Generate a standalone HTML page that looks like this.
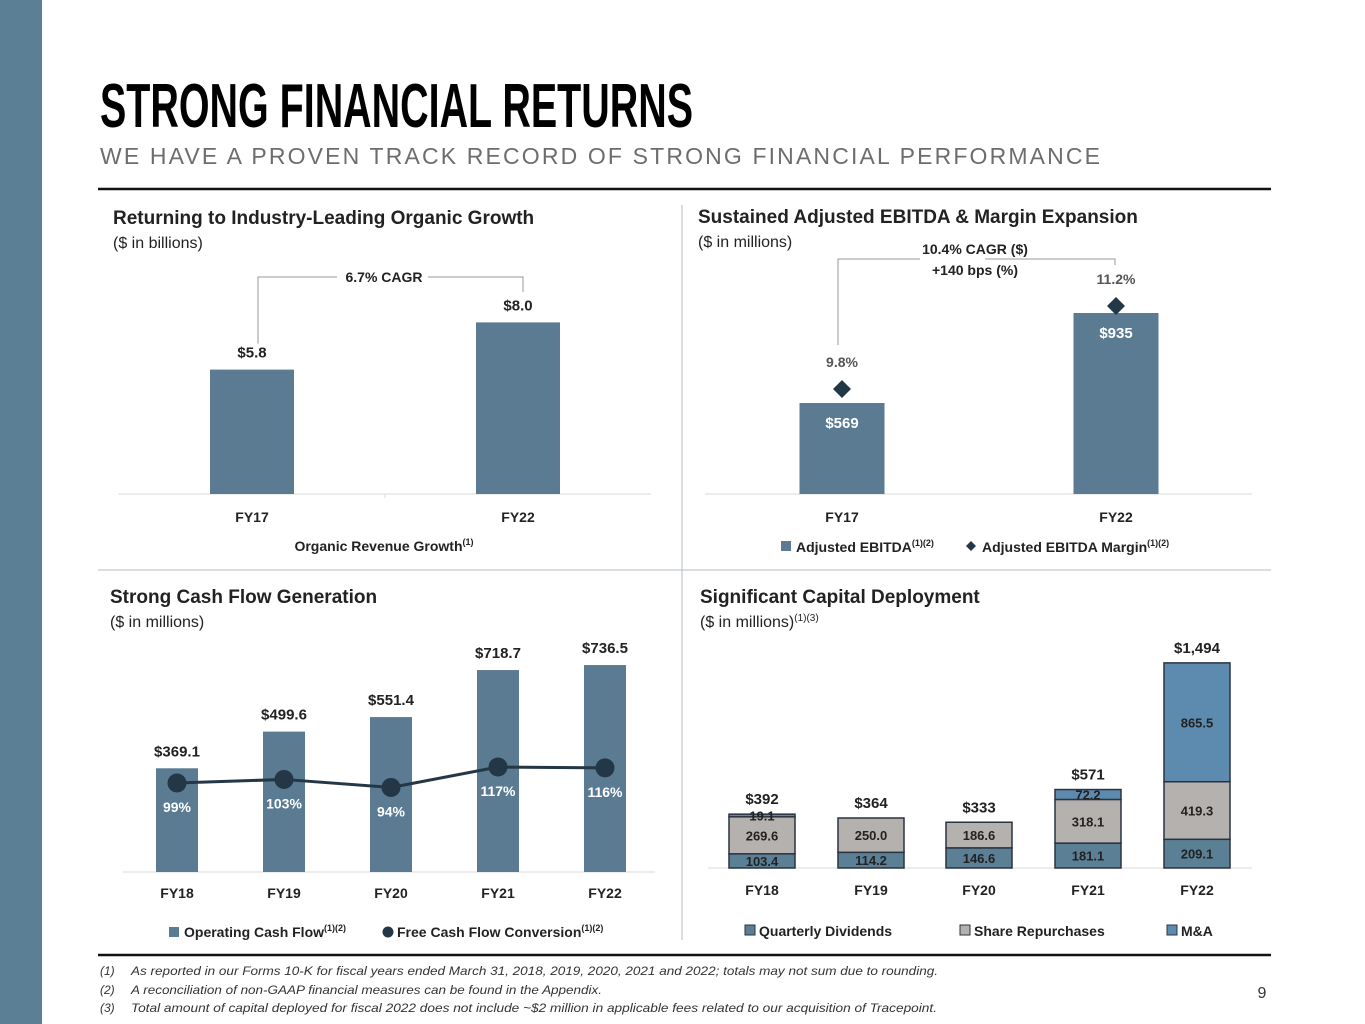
<!DOCTYPE html>
<html><head><meta charset="utf-8"><style>
html,body{margin:0;padding:0;background:#fff;}
svg{display:block;font-family:"Liberation Sans",sans-serif;}
.b{font-weight:bold;}
</style></head><body>
<svg id="s" width="1365" height="1024" viewBox="0 0 1365 1024" xmlns="http://www.w3.org/2000/svg">
<rect x="0" y="0" width="42" height="1024" fill="#5b7f95"/>
<text x="100" y="127" font-size="62" font-weight="bold" textLength="593" lengthAdjust="spacingAndGlyphs" fill="#000">STRONG FINANCIAL RETURNS</text>
<text x="100" y="164" font-size="23" textLength="1000" lengthAdjust="spacing" fill="#6d6d6d">WE HAVE A PROVEN TRACK RECORD OF STRONG FINANCIAL PERFORMANCE</text>
<line x1="98" y1="189" x2="1271" y2="189" stroke="#111" stroke-width="2.5"/>
<line x1="98" y1="570" x2="1271" y2="570" stroke="#b0bcc6" stroke-width="1"/>
<line x1="682" y1="205" x2="682" y2="940" stroke="#b0bcc6" stroke-width="1"/>
<line x1="98" y1="955" x2="1271" y2="955" stroke="#111" stroke-width="2.5"/>

<text class="b" x="113" y="224" font-size="19" fill="#222">Returning to Industry-Leading Organic Growth</text>
<text x="113" y="248" font-size="16" fill="#222">($ in billions)</text>
<text class="b" x="698" y="223" font-size="19" fill="#222">Sustained Adjusted EBITDA &amp; Margin Expansion</text>
<text x="698" y="247" font-size="16" fill="#222">($ in millions)</text>
<text class="b" x="110" y="603" font-size="19" fill="#222">Strong Cash Flow Generation</text>
<text x="110" y="627" font-size="16" fill="#222">($ in millions)</text>
<text class="b" x="700" y="603" font-size="19" fill="#222">Significant Capital Deployment</text>
<text x="700" y="627" font-size="16" fill="#222">($ in millions)<tspan font-size="10" dy="-6">(1)(3)</tspan></text>

<g id="c1"></g><g id="c2"></g><g id="c3"></g><g id="c4"></g>

<g font-style="italic" font-size="12" fill="#333">
<text x="100" y="975">(1)</text><text x="131" y="975" textLength="807" lengthAdjust="spacingAndGlyphs">As reported in our Forms 10-K for fiscal years ended March 31, 2018, 2019, 2020, 2021 and 2022; totals may not sum due to rounding.</text>
<text x="100" y="994">(2)</text><text x="131" y="994" textLength="471" lengthAdjust="spacingAndGlyphs">A reconciliation of non-GAAP financial measures can be found in the Appendix.</text>
<text x="100" y="1012">(3)</text><text x="131" y="1012" textLength="806" lengthAdjust="spacingAndGlyphs">Total amount of capital deployed for fiscal 2022 does not include ~$2 million in applicable fees related to our acquisition of Tracepoint.</text>
</g>
<text x="1262" y="998" font-size="16" text-anchor="middle" fill="#333">9</text>
</svg>
<script>
// Chart 1 data
const orgCats = ["FY17","FY22"];
const orgVals = [5.8, 8.0];
const orgLabels = ["$5.8","$8.0"];
// Chart 2 data
const ebCats = ["FY17","FY22"];
const ebVals = [569, 935];
const ebLabels = ["$569","$935"];
const ebMargin = [9.8, 11.2];
const ebMarginLabels = ["9.8%","11.2%"];
// Chart 3 data
const cfCats = ["FY18","FY19","FY20","FY21","FY22"];
const cfVals = [369.1, 499.6, 551.4, 718.7, 736.5];
const cfConv = [99, 103, 94, 117, 116];
// Chart 4 data
const capCats = ["FY18","FY19","FY20","FY21","FY22"];
const capDiv = [103.4, 114.2, 146.6, 181.1, 209.1];
const capRep = [269.6, 250.0, 186.6, 318.1, 419.3];
const capMA = [19.1, 0, 0, 72.2, 865.5];
const capTotals = ["$392","$364","$333","$571","$1,494"];

const NS="http://www.w3.org/2000/svg";
function mk(parent, tag, attrs, txt){const e=document.createElementNS(NS,tag);for(const k in attrs)e.setAttribute(k,attrs[k]);if(txt!==undefined)e.textContent=txt;parent.appendChild(e);return e;}
const BAR="#5b7b93", DARK="#243746", TXT="#222";

// ---- Chart 1
(function(){
const g=document.getElementById('c1');
const base=494, k=21.45, cx=[252,518], w=84;
const y=v=>base-v*k;
mk(g,'line',{x1:118,y1:base,x2:651,y2:base,stroke:'#d9d9d9'});
mk(g,'line',{x1:385,y1:base,x2:385,y2:base+4,stroke:'#d9d9d9'});
orgVals.forEach((v,i)=>{
 const r=mk(g,'rect',{x:cx[i]-w/2,y:y(v),width:w,height:base-y(v),fill:BAR});
 
 
 const t=mk(g,'text',{x:cx[i],y:y(v)-12,'text-anchor':'middle','font-size':15,'font-weight':'bold',fill:TXT},orgLabels[i]);
 
 
 const c=mk(g,'text',{x:cx[i],y:522,'text-anchor':'middle','font-size':14,'font-weight':'bold',fill:TXT},orgCats[i]);
 
 
});
const br=mk(g,'path',{d:`M${cx[0]+6} ${y(orgVals[0])-26} V277 H337 M428 277 H523 V292`,fill:'none',stroke:'#999','stroke-width':1});


mk(g,'text',{x:384,y:282,'text-anchor':'middle','font-size':14,'font-weight':'bold',fill:TXT},'6.7% CAGR');
const lg=mk(g,'text',{x:384,y:551,'text-anchor':'middle','font-size':14,'font-weight':'bold',fill:TXT});


lg.innerHTML='Organic Revenue Growth<tspan font-size="9" dy="-6">(1)</tspan>';
})();

// ---- Chart 2
(function(){
const g=document.getElementById('c2');
const base=494, k=0.2459, v0=199, cx=[842,1116], w=85;
const y=v=>base-(v-v0)*k;
const ym=m=>base-(m-8.03)*59.3;
mk(g,'line',{x1:705,y1:base,x2:1252,y2:base,stroke:'#d9d9d9'});
ebVals.forEach((v,i)=>{
 const r=mk(g,'rect',{x:cx[i]-w/2,y:y(v),width:w,height:base-y(v),fill:BAR});
 
 
 mk(g,'text',{x:cx[i],y:y(v)+25,'text-anchor':'middle','font-size':15,'font-weight':'bold',fill:'#fff'},ebLabels[i]);
 const yy=ym(ebMargin[i]);
 const d=mk(g,'path',{d:`M${cx[i]} ${yy-9} L${cx[i]+9} ${yy} L${cx[i]} ${yy+9} L${cx[i]-9} ${yy} Z`,fill:DARK});
 
 
 mk(g,'text',{x:cx[i],y:yy-22,'text-anchor':'middle','font-size':14,'font-weight':'bold',fill:'#555'},ebMarginLabels[i]);
 mk(g,'text',{x:cx[i],y:522,'text-anchor':'middle','font-size':14,'font-weight':'bold',fill:TXT},ebCats[i]);
});
const br=mk(g,'path',{d:'M838 345 V259 H920 M985 259 H1115 V265',fill:'none',stroke:'#999'});


mk(g,'text',{x:975,y:254,'text-anchor':'middle','font-size':14,'font-weight':'bold',fill:TXT},'10.4% CAGR ($)');
mk(g,'text',{x:975,y:275,'text-anchor':'middle','font-size':14,'font-weight':'bold',fill:TXT},'+140 bps (%)');
const l1=mk(g,'rect',{x:781,y:541,width:10,height:10,fill:BAR});


const t1=mk(g,'text',{x:796,y:552,'font-size':14,'font-weight':'bold',fill:TXT});
t1.innerHTML='Adjusted EBITDA<tspan font-size="9" dy="-6">(1)(2)</tspan>';
mk(g,'path',{d:'M971 541 L976 546 L971 551 L966 546 Z',fill:DARK});
const t2=mk(g,'text',{x:982,y:552,'font-size':14,'font-weight':'bold',fill:TXT});
t2.innerHTML='Adjusted EBITDA Margin<tspan font-size="9" dy="-6">(1)(2)</tspan>';
})();

// ---- Chart 3
(function(){
const g=document.getElementById('c3');
const base=872, k=0.281, cx=[177,284,391,498,605], w=42;
const y=v=>base-v*k;
const yc=p=>783-(p-99)*0.89;
mk(g,'line',{x1:123,y1:base,x2:655,y2:base,stroke:'#d9d9d9'});
cfVals.forEach((v,i)=>{
 const r=mk(g,'rect',{x:cx[i]-w/2,y:y(v),width:w,height:base-y(v),fill:BAR});
 
 
 mk(g,'text',{x:cx[i],y:y(v)-12,'text-anchor':'middle','font-size':15,'font-weight':'bold',fill:TXT},'$'+v.toFixed(1));
 mk(g,'text',{x:cx[i],y:898,'text-anchor':'middle','font-size':14,'font-weight':'bold',fill:TXT},cfCats[i]);
});
const line=mk(g,'polyline',{points:cfConv.map((p,i)=>cx[i]+','+yc(p)).join(' '),fill:'none',stroke:DARK,'stroke-width':3});


cfConv.forEach((p,i)=>{
 const c=mk(g,'circle',{cx:cx[i],cy:yc(p),r:9.5,fill:DARK});
 
 
 mk(g,'text',{x:cx[i],y:yc(p)+29,'text-anchor':'middle','font-size':14,'font-weight':'bold',fill:'#fff'},p+'%');
});
mk(g,'rect',{x:169,y:927,width:10,height:10,fill:BAR});
const t1=mk(g,'text',{x:184,y:937,'font-size':14,'font-weight':'bold',fill:TXT});
t1.innerHTML='Operating Cash Flow<tspan font-size="9" dy="-6">(1)(2)</tspan>';
mk(g,'circle',{cx:388,cy:932,r:5.5,fill:DARK});
const t2=mk(g,'text',{x:397,y:937,'font-size':14,'font-weight':'bold',fill:TXT});
t2.innerHTML='Free Cash Flow Conversion<tspan font-size="9" dy="-6">(1)(2)</tspan>';
})();

// ---- Chart 4
(function(){
const g=document.getElementById('c4');
const base=868, k=0.1373, cx=[762,871,979,1088,1197], w=66;
const cols=['#5b7f95','#b5b1ae','#5d8bb0'];
mk(g,'line',{x1:708,y1:base,x2:1252,y2:base,stroke:'#d9d9d9'});
capCats.forEach((c,i)=>{
 const segs=[capDiv[i],capRep[i],capMA[i]];
 let acc=0;
 segs.forEach((v,j)=>{
  if(v<=0)return;
  const y0=base-acc*k, y1=base-(acc+v)*k;
  const r=mk(g,'rect',{x:cx[i]-w/2,y:y1,width:w,height:y0-y1,fill:cols[j],stroke:'#2b3340','stroke-width':1.5});
  
  
  mk(g,'text',{x:cx[i],y:(y0+y1)/2+5,'text-anchor':'middle','font-size':13,'font-weight':'bold',fill:'#222'},v.toFixed(1));
  acc+=v;
 });
 mk(g,'text',{x:cx[i],y:base-acc*k-10,'text-anchor':'middle','font-size':15,'font-weight':'bold',fill:TXT},capTotals[i]);
 mk(g,'text',{x:cx[i],y:895,'text-anchor':'middle','font-size':14,'font-weight':'bold',fill:TXT},c);
});
const leg=[['Quarterly Dividends',745],['Share Repurchases',960],['M&A',1167]];
leg.forEach((l,j)=>{
 const r=mk(g,'rect',{x:l[1],y:925,width:10,height:10,fill:cols[j],stroke:'#2b3340','stroke-width':1});
 
 
 mk(g,'text',{x:l[1]+14,y:936,'font-size':14,'font-weight':'bold',fill:TXT},l[0]);
});
})();
</script>
</body></html>
